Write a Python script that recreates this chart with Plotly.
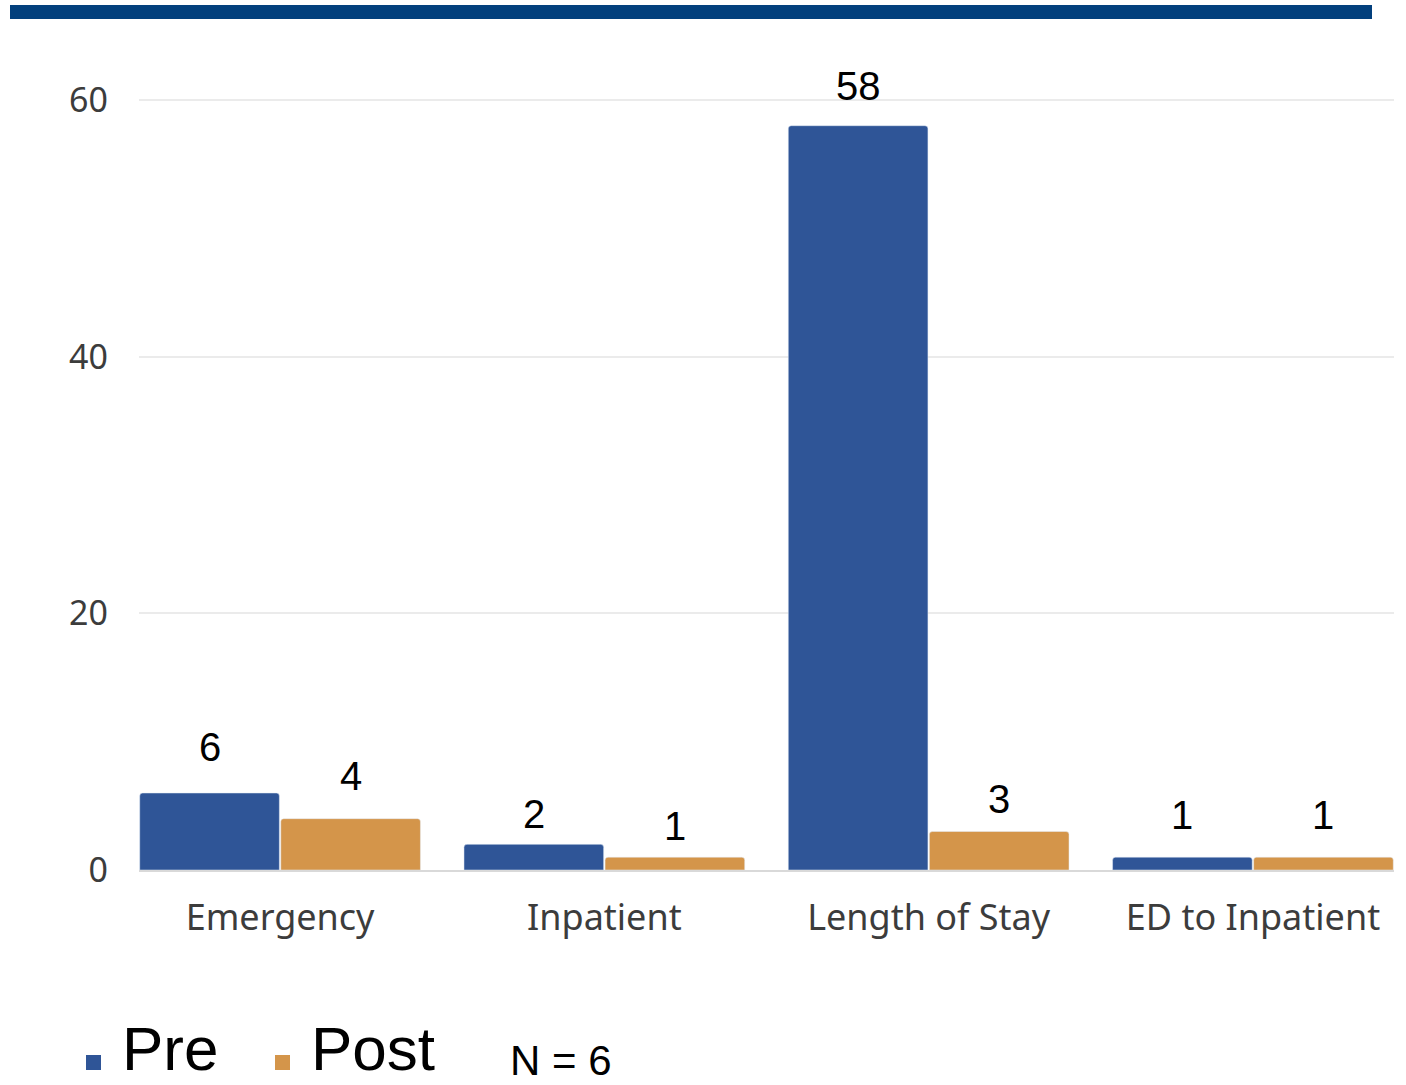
import plotly.graph_objects as go

# Data
categories = ["Emergency", "Inpatient", "Length of Stay", "ED to Inpatient"]
pre_values = [6, 2, 58, 1]
post_values = [4, 1, 3, 1]
series_names = ["Pre", "Post"]
y_ticks = [0, 20, 40, 60]
sample_note = "N = 6"

# Styling
PRE_COLOR = "#2f5597"
POST_COLOR = "#d4954a"
BANNER_COLOR = "#03407d"
W, H = 1406, 1085
M_L, M_R, M_T, M_B = 139, 12, 99, 215
PLOT_W = W - M_L - M_R
PLOT_H = H - M_T - M_B
Y_MAX = 60.08

# vertical distance (px) from bar top to the centre of each value label
pre_label_lift = [46, 30, 40, 42]
post_label_lift = [43, 31, 33, 42]

BARGAP = 0.13
half_w = (1 - BARGAP) / 4  # centre offset of each bar in a group


def px_x(px):
    return (px - M_L) / PLOT_W


def px_y(py):
    return (H - M_B - py) / PLOT_H


fig = go.Figure()
fig.add_trace(go.Bar(x=categories, y=pre_values, name=series_names[0],
                     marker=dict(color=PRE_COLOR, cornerradius=3), showlegend=False))
fig.add_trace(go.Bar(x=categories, y=post_values, name=series_names[1],
                     marker=dict(color=POST_COLOR, cornerradius=3), showlegend=False))

annotations = []
label_font = dict(family="Liberation Sans, Arial, sans-serif", size=40, color="#000000")
for i, (pv, qv) in enumerate(zip(pre_values, post_values)):
    annotations.append(dict(x=i - half_w, y=pv, xref="x", yref="y", text=str(pv),
                            showarrow=False, yanchor="middle", yshift=pre_label_lift[i],
                            font=label_font))
    annotations.append(dict(x=i + half_w, y=qv, xref="x", yref="y", text=str(qv),
                            showarrow=False, yanchor="middle", yshift=post_label_lift[i],
                            font=label_font))

# custom legend row
legend_font = dict(family="Liberation Sans, Arial, sans-serif", size=62, color="#000000")
shapes = []
for name, color, sq_x, txt_x in [(series_names[0], PRE_COLOR, 86, 120),
                                  (series_names[1], POST_COLOR, 275, 309)]:
    shapes.append(dict(type="rect", xref="paper", yref="paper",
                       x0=px_x(sq_x), x1=px_x(sq_x + 15),
                       y0=px_y(1070), y1=px_y(1055),
                       fillcolor=color, line=dict(width=0)))
    annotations.append(dict(x=px_x(txt_x), y=px_y(1085), xref="paper", yref="paper",
                            text=name, showarrow=False, xanchor="left", yanchor="bottom",
                            font=legend_font))
annotations.append(dict(x=px_x(508), y=px_y(1060), xref="paper", yref="paper",
                        text=sample_note, showarrow=False, xanchor="left", yanchor="middle",
                        font=dict(family="Liberation Sans, Arial, sans-serif", size=42,
                                  color="#000000")))

# header banner
shapes.append(dict(type="rect", xref="paper", yref="paper",
                   x0=px_x(10), x1=px_x(1372), y0=px_y(19), y1=px_y(5),
                   fillcolor=BANNER_COLOR, line=dict(width=0), layer="above"))

fig.update_layout(
    width=W, height=H,
    margin=dict(l=M_L, r=M_R, t=M_T, b=M_B, pad=0),
    paper_bgcolor="white", plot_bgcolor="white",
    barmode="group", bargap=BARGAP, bargroupgap=0.01,
    showlegend=False,
    annotations=annotations,
    shapes=shapes,
    xaxis=dict(type="category", categoryorder="array", categoryarray=categories,
               range=[-0.435, 3.435], showline=True, linecolor="#d9d9d9", linewidth=2,
               showgrid=False, ticks="", ticklabelstandoff=15,
               tickfont=dict(family="Noto Sans, DejaVu Sans, sans-serif", size=36,
                             color="#3c3c3c")),
    yaxis=dict(range=[0, Y_MAX], tickvals=y_ticks, showline=False, zeroline=False,
               showgrid=True, gridcolor="#ebebeb", gridwidth=1.5, ticks="",
               ticklabelstandoff=30,
               tickfont=dict(family="Noto Sans, DejaVu Sans, sans-serif", size=34,
                             color="#3c3c3c")),
)

fig.write_html("out.html")
